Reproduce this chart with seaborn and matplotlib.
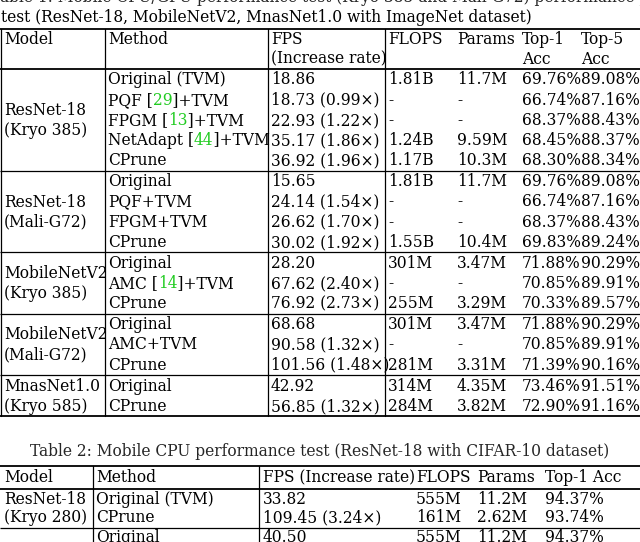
import re
import matplotlib
matplotlib.use("Agg")
import matplotlib.pyplot as plt
import seaborn as sns

sns.set_theme(style="white")
plt.rcParams['font.family'] = ['DejaVu Serif', 'Liberation Serif']

caption1 = "test (ResNet-18, MobileNetV2, MnasNet1.0 with ImageNet dataset)"
headers1 = ["Model", "Method", "FPS", "FLOPS", "Params", "Top-1", "Top-5"]
headers1b = ["", "", "(Increase rate)", "", "", "Acc", "Acc"]
groups1 = [("ResNet-18", "(Kryo 385)"), ("ResNet-18", "(Mali-G72)"),
           ("MobileNetV2", "(Kryo 385)"), ("MobileNetV2", "(Mali-G72)"),
           ("MnasNet1.0", "(Kryo 585)")]
methods1 = [["Original (TVM)", "PQF [29]+TVM", "FPGM [13]+TVM", "NetAdapt [44]+TVM", "CPrune"],
            ["Original", "PQF+TVM", "FPGM+TVM", "CPrune"],
            ["Original", "AMC [14]+TVM", "CPrune"],
            ["Original", "AMC+TVM", "CPrune"],
            ["Original", "CPrune"]]
fps1 = [["18.86", "18.73 (0.99×)", "22.93 (1.22×)", "35.17 (1.86×)", "36.92 (1.96×)"],
        ["15.65", "24.14 (1.54×)", "26.62 (1.70×)", "30.02 (1.92×)"],
        ["28.20", "67.62 (2.40×)", "76.92 (2.73×)"],
        ["68.68", "90.58 (1.32×)", "101.56 (1.48×)"],
        ["42.92", "56.85 (1.32×)"]]
flops1 = [["1.81B", "-", "-", "1.24B", "1.17B"], ["1.81B", "-", "-", "1.55B"],
          ["301M", "-", "255M"], ["301M", "-", "281M"], ["314M", "284M"]]
params1 = [["11.7M", "-", "-", "9.59M", "10.3M"], ["11.7M", "-", "-", "10.4M"],
           ["3.47M", "-", "3.29M"], ["3.47M", "-", "3.31M"], ["4.35M", "3.82M"]]
top1_1 = [["69.76%", "66.74%", "68.37%", "68.45%", "68.30%"],
          ["69.76%", "66.74%", "68.37%", "69.83%"],
          ["71.88%", "70.85%", "70.33%"], ["71.88%", "70.85%", "71.39%"],
          ["73.46%", "72.90%"]]
top5_1 = [["89.08%", "87.16%", "88.43%", "88.37%", "88.34%"],
          ["89.08%", "87.16%", "88.43%", "89.24%"],
          ["90.29%", "89.91%", "89.57%"], ["90.29%", "89.91%", "90.16%"],
          ["91.51%", "91.16%"]]

caption2 = "Table 2: Mobile CPU performance test (ResNet-18 with CIFAR-10 dataset)"
headers2 = ["Model", "Method", "FPS (Increase rate)", "FLOPS", "Params", "Top-1 Acc"]
model2 = ("ResNet-18", "(Kryo 280)")
methods2 = ["Original (TVM)", "CPrune", "Original"]
fps2 = ["33.82", "109.45 (3.24×)", "40.50"]
flops2 = ["555M", "161M", "555M"]
params2 = ["11.2M", "2.62M", "11.2M"]
top1_2 = ["94.37%", "93.74%", "94.37%"]

W, H = 640, 542
fig = plt.figure(figsize=(6.4, 5.42), dpi=100)
ax = fig.add_axes([0, 0, 1, 1])
ax.set_xlim(0, W); ax.set_ylim(H, 0); ax.axis("off")
FS = 11.2
kw = dict(fontsize=FS, va="center", ha="left", color="black")
renderer = fig.canvas.get_renderer()

def width(s):
    if not s:
        return 0.0
    t = ax.text(0, 0, s.replace(" ", "\u00a0"), fontsize=FS)
    w = t.get_window_extent(renderer).width
    t.remove()
    return w

def rich(x, y, s):
    m = re.search(r"\[(\d+)\]", s)
    ax.text(x, y, s, **kw)
    if m:
        # overlay green digits on white
        a, b = m.start(1), m.end(1)
        xa = x + width(s[:a])
        ax.text(xa, y, s[a:b], **{**kw, "color": "#22cc22"},
                bbox=dict(facecolor="white", edgecolor="none", pad=0.2))

def hline(y, x0=0, x1=W, lw=1.3):
    ax.plot([x0, x1], [y, y], color="black", lw=lw, solid_capstyle="butt")

def vline(x, y0, y1, lw=0.9):
    ax.plot([x, x], [y0, y1], color="black", lw=lw)

ax.text(W / 2, -2, "Table 1: Mobile CPU/GPU performance test (Kryo 385 and Mali-G72) performance p",
        fontsize=FS, ha="center", va="center")
ax.text(1, 17, caption1, **kw)

cols1 = [4, 108, 271, 388, 457, 522, 581]
top, hdr_bot = 29, 69
for x, h, h2 in zip(cols1, headers1, headers1b):
    ax.text(x, 40, h, **kw)
    if h2:
        ax.text(x, 59, h2, **kw)
hline(top); hline(hdr_bot)

pitch = 20.2
y = hdr_bot
for gi, g in enumerate(groups1):
    n = len(methods1[gi])
    ys = [y + 11 + pitch * i for i in range(n)]
    mid = (ys[0] + ys[-1]) / 2
    ax.text(cols1[0], mid - 10, g[0], **kw)
    ax.text(cols1[0], mid + 10, g[1], **kw)
    for i, yy in enumerate(ys):
        rich(cols1[1], yy, methods1[gi][i])
        ax.text(cols1[2], yy, fps1[gi][i], **kw)
        ax.text(cols1[3], yy, flops1[gi][i], **kw)
        ax.text(cols1[4], yy, params1[gi][i], **kw)
        ax.text(cols1[5], yy, top1_1[gi][i], **kw)
        ax.text(cols1[6], yy, top5_1[gi][i], **kw)
    y = ys[-1] + 10
    hline(y, lw=1.3 if gi == len(groups1) - 1 else 0.9)
t1_bottom = y
for x in [1, 105, 268, 385]:
    vline(x, top, t1_bottom)

ax.text(W / 2, 452, caption2, fontsize=FS, ha="center", va="center")
cols2 = [4, 96, 263, 416, 477, 545]
t2top = 466
hline(t2top)
for x, h in zip(cols2, headers2):
    ax.text(x, 478, h, **kw)
hline(489)
ys2 = [499, 518, 537]
ax.text(cols2[0], ys2[0], model2[0], **kw)
ax.text(cols2[0], ys2[1], model2[1], **kw)
for i, yy in enumerate(ys2):
    ax.text(cols2[1], yy, methods2[i], **kw)
    ax.text(cols2[2], yy, fps2[i], **kw)
    ax.text(cols2[3], yy, flops2[i], **kw)
    ax.text(cols2[4], yy, params2[i], **kw)
    ax.text(cols2[5], yy, top1_2[i], **kw)
hline(528, lw=0.9)
for x in [93, 259]:
    vline(x, t2top, H)

fig.savefig("out.png", dpi=100)
